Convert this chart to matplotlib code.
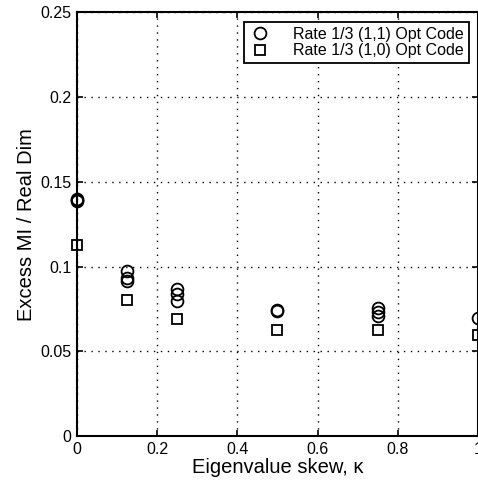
import matplotlib
matplotlib.use("Agg")
from matplotlib import pyplot as plt

plt.rcParams['font.family'] = ['Liberation Sans', 'DejaVu Sans']

skew_11 = [0, 0, 0, 0.125, 0.125, 0.125, 0.25, 0.25, 0.25, 0.5, 0.5, 0.75, 0.75, 0.75, 1.0]
mi_11 = [0.1385, 0.1395, 0.1400, 0.0972, 0.0933, 0.0914, 0.0869, 0.0835, 0.0796,
         0.0741, 0.0735, 0.0757, 0.0731, 0.0708, 0.0698]
skew_10 = [0, 0.125, 0.25, 0.5, 0.75, 1.0]
mi_10 = [0.113, 0.080, 0.069, 0.0625, 0.0625, 0.0594]

xticks = [0, 0.2, 0.4, 0.6, 0.8, 1]
xticklabels = ['0', '0.2', '0.4', '0.6', '0.8', '1']
yticks = [0, 0.05, 0.1, 0.15, 0.2, 0.25]
yticklabels = ['0', '0.05', '0.1', '0.15', '0.2', '0.25']

fig = plt.figure(figsize=(4.78, 4.87), dpi=100)
ax = fig.add_axes([0.161, 0.1047, 0.839, 0.870])

ax.plot(skew_11, mi_11, 'o', mfc='none', mec='black', ms=8.5, mew=1.3,
        label='Rate 1/3 (1,1) Opt Code', clip_on=False)
ax.plot(skew_10, mi_10, 's', mfc='none', mec='black', ms=7.5, mew=1.3,
        label='Rate 1/3 (1,0) Opt Code', clip_on=False)

ax.set_xlim(0, 1)
ax.set_ylim(0, 0.25)
ax.set_xticks(xticks)
ax.set_xticklabels(xticklabels)
ax.set_yticks(yticks)
ax.set_yticklabels(yticklabels)
ax.tick_params(direction='in', top=True, right=True, labelsize=11.5, length=4, width=1.2, pad=4)
ax.grid(True, linestyle=(0, (1, 4)), color='black', linewidth=1.0)
for s in ax.spines.values():
    s.set_linewidth(1.5)

ax.set_xlabel('Eigenvalue skew, κ', fontsize=14.5, labelpad=1)
ax.set_ylabel('Excess MI / Real Dim', fontsize=14.5, labelpad=3)

leg = ax.legend(loc='upper right', bbox_to_anchor=(0.977, 0.977), fontsize=11.5,
                fancybox=False, framealpha=1, edgecolor='black',
                handletextpad=1.3, borderpad=0.3, labelspacing=0.1,
                handlelength=1.5, borderaxespad=0)
leg.get_frame().set_linewidth(1.3)

plt.savefig('out.png', dpi=100)
